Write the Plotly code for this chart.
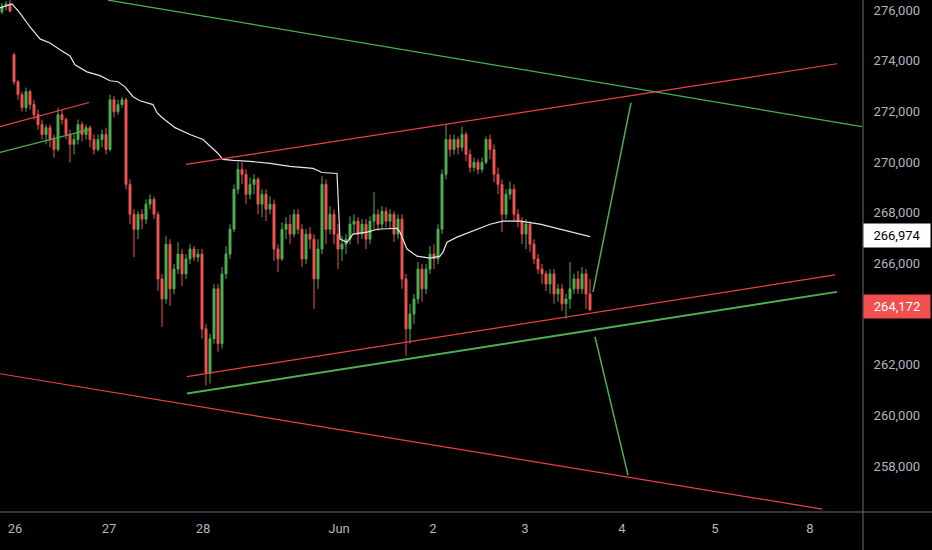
import plotly.graph_objects as go

# candles (one bar per index), prices
opens = [275920, 276160, 276240, 274230, 273170, 272660, 272150, 272780, 272270, 271870,
         271480, 271090, 271360, 270890, 270500, 271870, 271680, 271090, 270700, 270890,
         271480, 271090, 271360, 270890, 270500, 270890, 271090, 270500, 272460, 271990,
         272270, 272460, 269120, 267940, 267350, 267940, 267750, 268340, 268530, 267940,
         265390, 264600, 266760, 265000, 265780, 266370, 265590, 266180, 266570, 266250,
         266370, 263420, 261660, 263030, 265000, 262840, 265590, 266370, 267350, 268930,
         269710, 269520, 268730, 269120, 269320, 268340, 268730, 268140, 268340, 266570,
         266180, 267350, 267550, 267160, 267940, 267350, 266180, 267160, 266960, 265390,
         266570, 269120, 267350, 267940, 267160, 266570, 266760, 266960, 267550, 267670,
         267160, 267550, 266960, 267670, 267940, 267550, 268060, 267670, 267940, 267160,
         267750, 265390, 263420, 264010, 264600, 265780, 265000, 265780, 266370, 266180,
         267350, 269520, 270890, 270500, 270890, 270580, 271090, 270300, 269790, 269990,
         269710, 269990, 270890, 270500, 269520, 269120, 267940, 268730, 268930, 267940,
         267670, 267160, 267550, 266760, 266180, 265780, 265590, 265190, 265590, 264800,
         265000, 264410, 264600, 265000, 265390, 265000, 265590, 264800]
highs = [276280, 276350, 276500, 274310, 273250, 272780, 272940, 272860, 272460, 272070,
         271680, 271480, 271480, 271090, 272150, 272070, 271760, 271280, 271090, 271680,
         271600, 271480, 271440, 271090, 271090, 271280, 271360, 272660, 272620, 272460,
         272580, 272540, 269320, 268140, 268060, 268140, 268530, 268730, 268650, 268060,
         265590, 267080, 266960, 265980, 266840, 266570, 266370, 266760, 266690, 266570,
         266570, 263620, 263230, 265190, 265190, 265860, 266690, 267550, 269120, 269990,
         269990, 269710, 269400, 269520, 269400, 268930, 268930, 268650, 268530, 266760,
         267630, 267830, 267940, 268140, 268140, 267550, 267350, 267430, 267160, 266960,
         269440, 269320, 268260, 268140, 267550, 267080, 267160, 267860, 267940, 267830,
         267750, 267750, 267860, 268810, 268140, 268260, 268220, 268140, 268060, 267940,
         267940, 265590, 264410, 264800, 266060, 265980, 265980, 266690, 266760, 267550,
         269710, 271480, 271090, 271090, 271010, 271400, 271200, 270500, 270180, 270110,
         270180, 271010, 271090, 270700, 269790, 269320, 268930, 269240, 269120, 268140,
         267830, 267750, 267670, 266960, 266370, 265980, 265700, 265780, 265780, 265190,
         265190, 264800, 266060, 265590, 265700, 265860, 265780, 265390]
lows = [275840, 275980, 275900, 273050, 272460, 271990, 271990, 272070, 271680, 271280,
        270890, 270700, 270580, 270180, 270420, 271480, 270890, 269990, 270300, 270700,
        270810, 270890, 270580, 270300, 270420, 270580, 270300, 270420, 271760, 271870,
        272150, 268930, 267550, 266250, 266960, 267350, 267550, 268140, 267750, 264920,
        263500, 264410, 264330, 264800, 265590, 265110, 265390, 265980, 266100, 266060,
        263030, 261180, 261260, 262840, 262520, 262640, 265390, 266180, 267240, 268730,
        269120, 268340, 268530, 268730, 267940, 267830, 267670, 267940, 266100, 265660,
        266100, 266960, 266760, 267040, 267160, 265860, 265980, 266570, 264210, 265000,
        266370, 266760, 267160, 266760, 265780, 266100, 266370, 266760, 267160, 266760,
        266960, 266570, 266760, 267350, 267280, 267350, 267430, 267350, 266840, 266960,
        265000, 262360, 262840, 263620, 264410, 264490, 264800, 265590, 265780, 265980,
        267160, 269320, 270220, 270300, 270300, 270420, 270030, 269590, 269630, 269520,
        269590, 269910, 270110, 269200, 268730, 267240, 267750, 268530, 267670, 267430,
        266760, 266570, 266450, 265980, 265590, 265190, 264920, 264800, 264410, 264490,
        264130, 263820, 264210, 264800, 264800, 264800, 264210, 264130]
closes = [276160, 276240, 275960, 273170, 272660, 272150, 272780, 272270, 271870, 271480,
          271090, 271360, 270890, 270500, 271870, 271680, 271090, 270700, 270890, 271480,
          271090, 271360, 270890, 270500, 270890, 271090, 270500, 272460, 271990, 272270,
          272460, 269120, 267940, 267350, 267940, 267750, 268340, 268530, 267940, 265390,
          264600, 266760, 265000, 265780, 266370, 265590, 266180, 266570, 266250, 266370,
          263420, 261660, 263030, 265000, 262840, 265590, 266370, 267350, 268930, 269710,
          269520, 268730, 269120, 269320, 268340, 268730, 268140, 268340, 266570, 266180,
          267350, 267550, 267160, 267940, 267350, 266180, 267160, 266960, 265390, 266570,
          269120, 267350, 267940, 267160, 266570, 266760, 266960, 267550, 267670, 267160,
          267550, 266960, 267670, 267940, 267550, 268060, 267670, 267940, 267160, 267750,
          265390, 263420, 264010, 264600, 265780, 265000, 265780, 266370, 266180, 267350,
          269520, 270890, 270500, 270890, 270580, 271090, 270300, 269790, 269990, 269710,
          269990, 270890, 270500, 269520, 269120, 267940, 268730, 268930, 267940, 267670,
          267160, 267550, 266760, 266180, 265780, 265590, 265190, 265590, 264800, 265000,
          264410, 264600, 265000, 265390, 265000, 265590, 264800, 264172]
bar_index = list(range(len(closes)))

# moving average (white line)
ma_x = [-0.5, 2.5, 4.5, 7, 9.5, 12, 14.5, 17, 18.25, 21.25, 24.5, 27, 29, 30.75, 32.75,
        34.5, 37.75, 38.75, 40, 43.25, 47, 50.25, 53.75, 55.25, 57.75, 62, 67, 72, 77.75,
        80, 83.75, 84, 84.5, 86.25, 87.75, 91.25, 93.75, 98.75, 99.5, 101.25, 103.75, 107,
        109.5, 110.25, 111.25, 113.75, 117.75, 122, 125.25, 129.5, 134.5, 138.75, 142.75, 147]
ma_y = [276080, 276240, 275880, 275330, 274860, 274700, 274430, 274190, 273840, 273560,
        273410, 273210, 273170, 272970, 272580, 272420, 272270, 271950, 271760, 271360,
        271090, 270890, 270380, 270110, 270070, 270030, 269950, 269830, 269750, 269590,
        269550, 268810, 266960, 266840, 267160, 267240, 267350, 267390, 267240, 266570,
        266290, 266210, 266290, 266450, 266840, 267040, 267280, 267550, 267670, 267670,
        267550, 267390, 267240, 267060]

# drawn trend lines: [x0, x1], [price0, price1]
top_green_x, top_green_y = [26.5, 215], [276393, 271400]
top_red_x, top_red_y = [46, 208.75], [269910, 273880]
left_red_x, left_red_y = [-0.5, 21.75], [271400, 272350]
left_green_x, left_green_y = [-0.5, 21.75], [270380, 271280]
low_red_x, low_red_y = [46.25, 208.25], [261540, 265550]
low_green_x, low_green_y = [46.25, 208.75], [260870, 264880]
bottom_red_x, bottom_red_y = [-0.5, 205], [261650, 256310]
up_arrow_x, up_arrow_y = [147.75, 157.25], [264880, 272345]
down_arrow_x, down_arrow_y = [148.25, 156.5], [263110, 257650]

# axis labels
day_pos = [3.25, 26.75, 50.25, 84.25, 107.75, 130.75, 155, 178.25, 202]
day_labels = ["26", "27", "28", "Jun", "2", "3", "4", "5", "8"]
price_ticks = [258000, 260000, 262000, 266000, 268000, 270000, 272000, 274000, 276000]
ma_last = 266974
last_price = 264172

UP = "#4caf50"
DOWN = "#ef5350"
RED_LINE = "#e8424a"
GREEN_LINE = "#4caf50"
AXIS_TXT = "#b2b5be"

fig = go.Figure()

fig.add_trace(go.Candlestick(
    x=bar_index, open=opens, high=highs, low=lows, close=closes,
    increasing=dict(line=dict(color=UP, width=1), fillcolor=UP),
    decreasing=dict(line=dict(color=DOWN, width=1), fillcolor=DOWN),
    whiskerwidth=0, hoverinfo="skip", showlegend=False))

fig.add_trace(go.Scatter(x=ma_x, y=ma_y, mode="lines",
                         line=dict(color="#e6e6e6", width=1.2),
                         hoverinfo="skip", showlegend=False))

lines = [
    (top_green_x, top_green_y, GREEN_LINE, 1.2),
    (top_red_x, top_red_y, RED_LINE, 1.2),
    (left_red_x, left_red_y, RED_LINE, 1.2),
    (left_green_x, left_green_y, GREEN_LINE, 1.2),
    (low_red_x, low_red_y, RED_LINE, 1.2),
    (low_green_x, low_green_y, GREEN_LINE, 2),
    (bottom_red_x, bottom_red_y, RED_LINE, 1.2),
    (up_arrow_x, up_arrow_y, GREEN_LINE, 1.5),
    (down_arrow_x, down_arrow_y, GREEN_LINE, 1.5),
]
for lx, ly, col, w in lines:
    fig.add_trace(go.Scatter(x=lx, y=ly, mode="lines", line=dict(color=col, width=w),
                             hoverinfo="skip", showlegend=False))

# price scale tags
fig.add_annotation(x=1, xref="paper", y=ma_last, yref="y", xanchor="left", yanchor="middle",
                   text=f"{ma_last:,}", showarrow=False, bgcolor="#ffffff",
                   font=dict(color="#000000", size=13, family="Roboto"),
                   width=60, height=17, borderpad=3, yshift=3)
fig.add_annotation(x=1, xref="paper", y=last_price, yref="y", xanchor="left", yanchor="middle",
                   text=f"{last_price:,}", showarrow=False, bgcolor="#f0514f",
                   font=dict(color="#ffffff", size=13, family="Roboto"),
                   width=60, height=17, borderpad=3, yshift=3)

# scale borders
fig.add_shape(type="line", xref="paper", yref="paper", x0=1, x1=1, y0=-38 / 512, y1=1,
              line=dict(color="#6a6d78", width=1))
fig.add_shape(type="line", xref="paper", yref="paper", x0=0, x1=932 / 863, y0=0, y1=0,
              line=dict(color="#6a6d78", width=1))

fig.update_layout(
    width=932, height=550,
    margin=dict(l=0, r=69, t=0, b=38),
    paper_bgcolor="#000000", plot_bgcolor="#000000",
    showlegend=False,
    font=dict(family="Roboto", size=13, color=AXIS_TXT),
    xaxis=dict(range=[-0.5, 215.25], rangeslider=dict(visible=False), showgrid=False,
               zeroline=False, showline=False, tickmode="array", tickvals=day_pos,
               ticktext=day_labels, ticks="", ticklabelstandoff=7,
               tickfont=dict(size=13, color=AXIS_TXT)),
    yaxis=dict(range=[256196, 276395], side="right", showgrid=False, zeroline=False,
               showline=False, tickmode="array", tickvals=price_ticks,
               ticktext=[f"{v:,}" for v in price_ticks],
               ticks="outside", ticklen=7, tickcolor="rgba(0,0,0,0)",
               tickfont=dict(size=13, color=AXIS_TXT)),
)

# page margin off so the figure sits at the window corner
fig.write_html("out.html", config={"displayModeBar": False},
               post_script="document.body.style.margin='0';")
